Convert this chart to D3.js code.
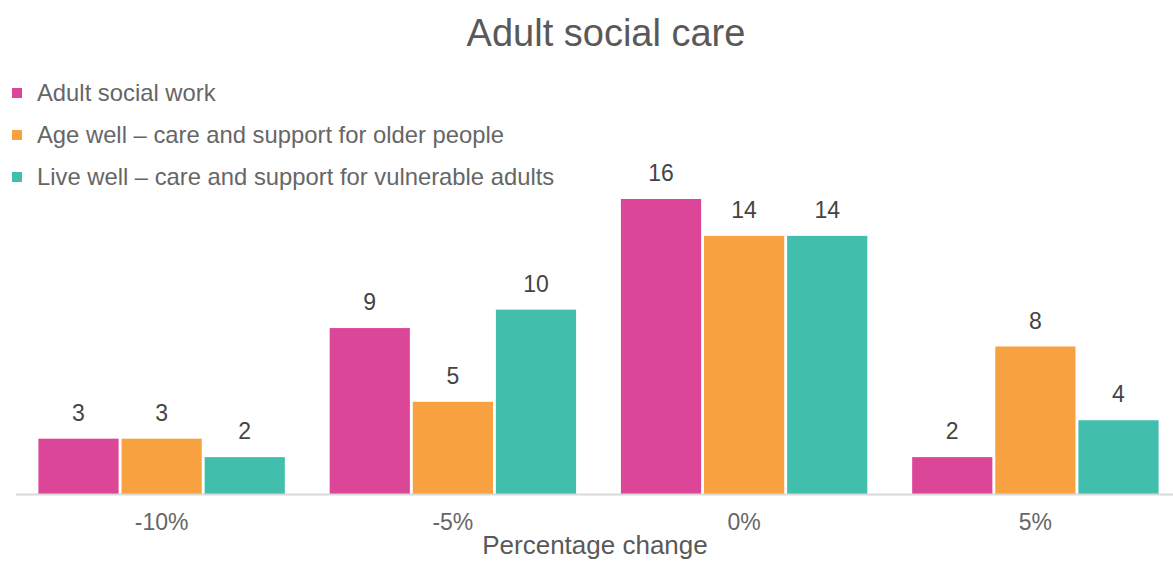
<!DOCTYPE html>
<html>
<head>
<meta charset="utf-8">
<script src="https://cdn.jsdelivr.net/npm/d3@7"></script>
<style>
  body { margin: 0; background: #fff; overflow: hidden; }
  text { font-family: "Liberation Sans", Arial, sans-serif; }
</style>
</head>
<body>
<div id="chart"></div>
<script>
var categories = ["-10%", "-5%", "0%", "5%"];
var seriesNames = ["Adult social work", "Age well \u2013 care and support for older people", "Live well \u2013 care and support for vulnerable adults"];
var adultSocialWork = [3, 9, 16, 2];
var ageWell = [3, 5, 14, 8];
var liveWell = [2, 10, 14, 4];
var seriesColors = ["#db4698", "#f7a140", "#42bead"];

var allSeries = [adultSocialWork, ageWell, liveWell];

var width = 1173, height = 561;

var svg = d3.select("#chart")
    .append("svg")
    .attr("width", width)
    .attr("height", height);

// title
svg.append("text")
    .attr("x", 606)
    .attr("y", 46)
    .attr("text-anchor", "middle")
    .style("font-size", "38px")
    .style("fill", "#595959")
    .text("Adult social care");

// legend
var legend = svg.selectAll(".legend")
    .data(seriesNames)
    .enter().append("g")
    .attr("transform", function(d, i){ return "translate(12," + (93 + i * 42) + ")"; });

legend.append("rect")
    .attr("x", 0)
    .attr("y", -5)
    .attr("width", 10)
    .attr("height", 10)
    .style("fill", function(d, i){ return seriesColors[i]; });

legend.append("text")
    .attr("x", 25)
    .attr("y", 8)
    .style("font-size", "23.8px")
    .style("fill", "#666")
    .text(function(d){ return d; });

// scales
var baseY = 494;
var x0 = d3.scaleBand()
    .domain(categories)
    .range([16, 1181])
    .paddingInner(0.134)
    .paddingOuter(0.067);

var x1 = d3.scaleBand()
    .domain(d3.range(seriesNames.length))
    .range([0, x0.bandwidth()])
    .padding(0.035);

var y = d3.scaleLinear()
    .domain([0, 16])
    .range([baseY, 199]);

// bars
var groups = svg.selectAll(".group")
    .data(categories)
    .enter().append("g")
    .attr("transform", function(d){ return "translate(" + x0(d) + ",0)"; });

groups.selectAll("rect")
    .data(function(d, ci){ return allSeries.map(function(s, si){ return {si: si, v: s[ci]}; }); })
    .enter().append("rect")
    .attr("x", function(d){ return x1(d.si); })
    .attr("y", function(d){ return y(d.v); })
    .attr("width", x1.bandwidth())
    .attr("height", function(d){ return baseY - y(d.v); })
    .style("fill", function(d){ return seriesColors[d.si]; });

groups.selectAll(".lbl")
    .data(function(d, ci){ return allSeries.map(function(s, si){ return {si: si, v: s[ci]}; }); })
    .enter().append("text")
    .attr("class", "lbl")
    .attr("x", function(d){ return x1(d.si) + x1.bandwidth() / 2; })
    .attr("y", function(d){ return y(d.v) - 18; })
    .attr("text-anchor", "middle")
    .style("font-size", "23px")
    .style("fill", "#444")
    .text(function(d){ return d.v; });

// x axis
var xAxis = svg.append("g")
    .attr("transform", "translate(0," + baseY + ")")
    .call(d3.axisBottom(x0).tickSize(0).tickPadding(20));

xAxis.select(".domain")
    .attr("d", "M16,0.5H1173")
    .style("stroke", "#d9d9d9")
    .style("stroke-width", 2);

xAxis.selectAll("text")
    .style("font-size", "23px")
    .style("fill", "#666")
    .style("font-family", "'Liberation Sans', Arial, sans-serif");

svg.append("text")
    .attr("x", 595)
    .attr("y", 554)
    .attr("text-anchor", "middle")
    .style("font-size", "26px")
    .style("fill", "#595959")
    .text("Percentage change");
</script>
</body>
</html>
